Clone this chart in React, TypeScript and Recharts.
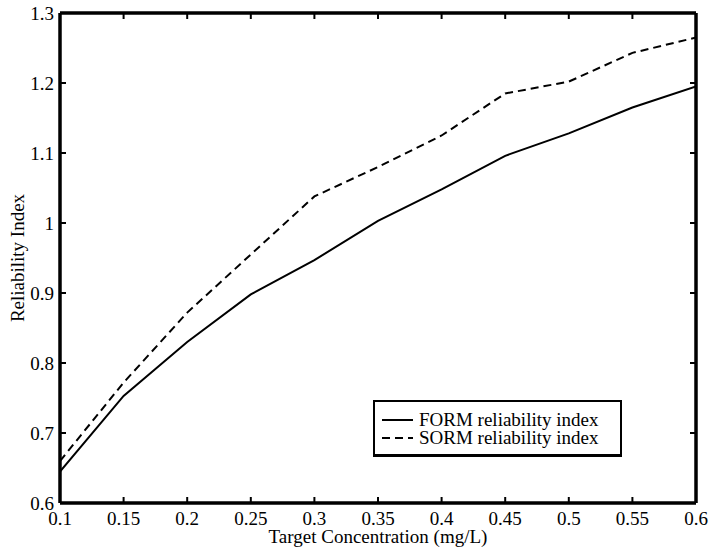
import React from 'react'
import {Legend, Line, LineChart, ReferenceLine, XAxis, YAxis} from 'recharts'

// let the figure fill the page from its top-left corner, like the exported plot
if (typeof document !== 'undefined') document.body.style.margin = '0'

const concentration = [0.1, 0.15, 0.2, 0.25, 0.3, 0.35, 0.4, 0.45, 0.5, 0.55, 0.6]
const formIndex = [0.645, 0.753, 0.83, 0.898, 0.947, 1.003, 1.048, 1.096, 1.128, 1.165, 1.195]
const sormIndex = [0.66, 0.772, 0.872, 0.955, 1.038, 1.08, 1.125, 1.185, 1.202, 1.243, 1.265]

const xTicks = [0.1, 0.15, 0.2, 0.25, 0.3, 0.35, 0.4, 0.45, 0.5, 0.55, 0.6]
const yTicks = [0.6, 0.7, 0.8, 0.9, 1, 1.1, 1.2, 1.3]

const data = concentration.map((c, i) => ({c, form: formIndex[i], sorm: sormIndex[i]}))

const yMin = 0.6
const yMax = 1.3
// inward tick length on the x edges, in y units (about 6px of the 490px plot)
const xTickLen = (yMax - yMin) * 6 / 490

const font = '"Liberation Serif", "Times New Roman", serif'
const tickStyle = {fill: '#000', fontSize: 19, fontFamily: font}
const axisLine = {stroke: '#000', strokeWidth: 3.5}
const inTick = {stroke: '#000', strokeWidth: 2}

// tick lines only, no label
const NoLabel = () => <g />

const LegendBox = ({payload}: any) => (
    <div style={{
        boxSizing: 'border-box', width: 249, height: 57, border: '2px solid #000',
        borderBottomWidth: 3, background: '#fff', paddingTop: 9, fontFamily: font, fontSize: 19,
    }}>
        {(payload || []).filter((p: any) => p.type !== 'none').map((p: any) => (
            <div key={p.value} style={{display: 'flex', alignItems: 'center', height: 18, lineHeight: '18px'}}>
                <svg width={44} height={18} style={{display: 'block'}}>
                    <line x1={7} x2={38} y1={9} y2={9} stroke='#000' strokeWidth={2}
                          strokeDasharray={p.payload.strokeDasharray} />
                </svg>
                <span style={{color: '#000'}}>{p.value}</span>
            </div>
        ))}
    </div>
)

const App = () => {
    return (
        <LineChart width={709} height={550} data={data}
                   margin={{top: 13, right: 13, bottom: 20, left: 0}}
                   style={{fontFamily: font}}>
            {/* labelled axes */}
            <XAxis xAxisId='x' dataKey='c' type='number' domain={[0.1, 0.6]} allowDataOverflow
                   ticks={xTicks} interval={0} height={27} tickSize={0} tickMargin={8.5}
                   tick={tickStyle} tickLine={false} axisLine={axisLine}
                   label={{value: 'Target Concentration (mg/L)', position: 'bottom', offset: 0,
                       style: {fill: '#000', fontSize: 19, fontFamily: font}}} />
            <YAxis yAxisId='y' type='number' domain={[yMin, yMax]} allowDataOverflow
                   ticks={yTicks} width={60} tickSize={0} tickMargin={6}
                   tick={tickStyle} tickLine={false} axisLine={axisLine}
                   label={{value: 'Reliability Index', angle: -90, position: 'insideLeft', offset: 17,
                       style: {fill: '#000', fontSize: 19, fontFamily: font, textAnchor: 'middle'}}} />
            {/* mirrored axes: top/right edges of the box, inward ticks on left and right */}
            <XAxis xAxisId='xt' orientation='top' type='number' domain={[0.1, 0.6]} allowDataOverflow mirror
                   height={1} tick={false} tickLine={false} axisLine={axisLine} />
            <YAxis yAxisId='yl' type='number' domain={[yMin, yMax]} allowDataOverflow mirror
                   ticks={yTicks} width={1} tickSize={6} tick={NoLabel} tickLine={inTick} axisLine={false} />
            <YAxis yAxisId='yr' orientation='right' type='number' domain={[yMin, yMax]} allowDataOverflow mirror
                   ticks={yTicks} width={1} tickSize={6} tick={NoLabel} tickLine={inTick} axisLine={axisLine} />
            {/* inward ticks on the bottom and top edges */}
            {xTicks.map(t => (
                <ReferenceLine key={`b${t}`} xAxisId='x' yAxisId='y' ifOverflow='visible'
                               segment={[{x: t, y: yMin}, {x: t, y: yMin + xTickLen}]} {...inTick} />
            ))}
            {xTicks.map(t => (
                <ReferenceLine key={`t${t}`} xAxisId='x' yAxisId='y' ifOverflow='visible'
                               segment={[{x: t, y: yMax}, {x: t, y: yMax - xTickLen}]} {...inTick} />
            ))}
            <Legend layout='horizontal' verticalAlign='middle' align='center' content={<LegendBox />}
                    wrapperStyle={{left: 373, top: 400, width: 249, height: 57}} />
            <Line xAxisId='x' yAxisId='y' name='FORM reliability index' dataKey='form' type='linear'
                  stroke='#000' strokeWidth={2} dot={false} isAnimationActive={false} />
            <Line xAxisId='x' yAxisId='y' name='SORM reliability index' dataKey='sorm' type='linear'
                  stroke='#000' strokeWidth={2} strokeDasharray='8 5' dot={false} isAnimationActive={false} />
        </LineChart>
    )
}

export default App
